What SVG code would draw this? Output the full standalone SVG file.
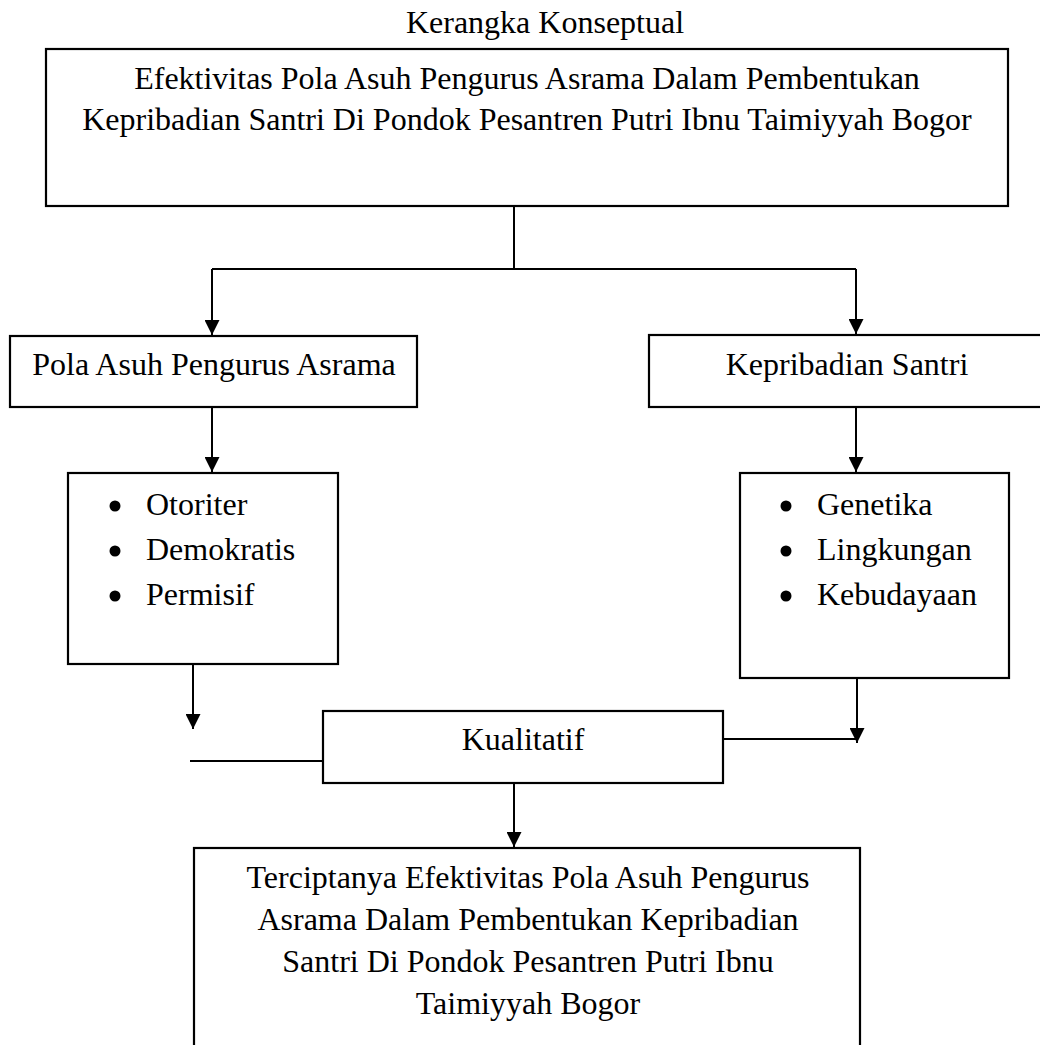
<svg xmlns="http://www.w3.org/2000/svg" width="1040" height="1045" viewBox="0 0 1040 1045">
<style>
.box{fill:#fff;stroke:#000;stroke-width:2.2}
.t{font-family:"Liberation Serif","Times New Roman",serif;font-size:32px;fill:#000}
.c{text-anchor:middle}
.ln{fill:none;stroke:#000;stroke-width:2}
.b{fill:#000}
</style>
<defs>
<marker id="ah" markerUnits="userSpaceOnUse" markerWidth="15" markerHeight="15" refX="15" refY="7.5" orient="auto">
<path d="M0,0 L15,7.5 L0,15 z" fill="#000"/>
</marker>
</defs>
<rect width="1040" height="1045" fill="#fff"/>
<text class="t c" x="545" y="33">Kerangka Konseptual</text>

<g id="connectors">
<path class="ln" d="M514,206 V269"/>
<path class="ln" d="M212,269 H856"/>
<path class="ln" d="M212,269 V335" marker-end="url(#ah)"/>
<path class="ln" d="M856,269 V334" marker-end="url(#ah)"/>
<path class="ln" d="M212,407 V472" marker-end="url(#ah)"/>
<path class="ln" d="M856,407 V472" marker-end="url(#ah)"/>
<path class="ln" d="M193,664 V729" marker-end="url(#ah)"/>
<path class="ln" d="M190,761 H323"/>
<path class="ln" d="M723,739 H857"/>
<path class="ln" d="M857,678 V743" marker-end="url(#ah)"/>
<path class="ln" d="M514,783 V847" marker-end="url(#ah)"/>
</g>

<g id="node-top">
<rect class="box" x="46" y="49" width="962" height="157"/>
<text class="t c" x="527" y="89">Efektivitas Pola Asuh Pengurus Asrama Dalam Pembentukan</text>
<text class="t c" x="527" y="130">Kepribadian Santri Di Pondok Pesantren Putri Ibnu Taimiyyah Bogor</text>
</g>

<g id="node-pola">
<rect class="box" x="10" y="336" width="407" height="71"/>
<text class="t c" x="214" y="375">Pola Asuh Pengurus Asrama</text>
</g>

<g id="node-kepribadian">
<rect class="box" x="649" y="335" width="400" height="72"/>
<text class="t c" x="847" y="375">Kepribadian Santri</text>
</g>

<g id="node-pola-list">
<rect class="box" x="68" y="473" width="270" height="191"/>
<circle class="b" cx="115" cy="506" r="5.5"/>
<text class="t" x="146" y="515">Otoriter</text>
<circle class="b" cx="115" cy="551" r="5.5"/>
<text class="t" x="146" y="560">Demokratis</text>
<circle class="b" cx="115" cy="596" r="5.5"/>
<text class="t" x="146" y="605">Permisif</text>
</g>

<g id="node-kepribadian-list">
<rect class="box" x="740" y="473" width="269" height="205"/>
<circle class="b" cx="786" cy="506" r="5.5"/>
<text class="t" x="817" y="515">Genetika</text>
<circle class="b" cx="786" cy="551" r="5.5"/>
<text class="t" x="817" y="560">Lingkungan</text>
<circle class="b" cx="786" cy="596" r="5.5"/>
<text class="t" x="817" y="605">Kebudayaan</text>
</g>

<g id="node-kualitatif">
<rect class="box" x="323" y="711" width="400" height="72"/>
<text class="t c" x="523" y="750">Kualitatif</text>
</g>

<g id="node-result">
<rect class="box" x="194" y="848" width="666" height="210"/>
<text class="t c" x="528" y="888">Terciptanya Efektivitas Pola Asuh Pengurus</text>
<text class="t c" x="528" y="930">Asrama Dalam Pembentukan Kepribadian</text>
<text class="t c" x="528" y="972">Santri Di Pondok Pesantren Putri Ibnu</text>
<text class="t c" x="528" y="1014">Taimiyyah Bogor</text>
</g>
</svg>
